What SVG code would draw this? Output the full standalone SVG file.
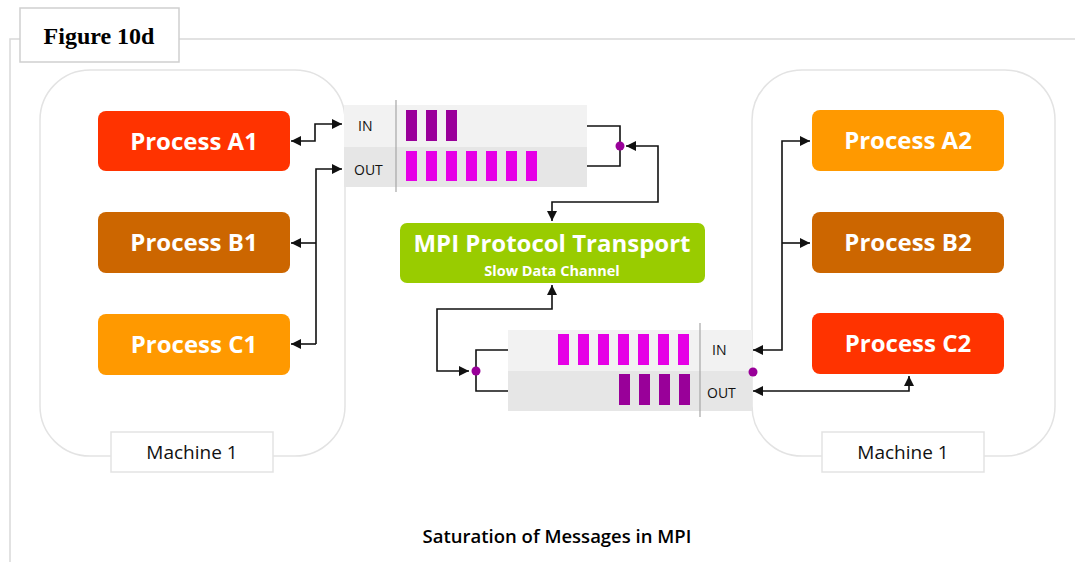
<svg xmlns="http://www.w3.org/2000/svg" width="1075" height="562" viewBox="0 0 1075 562">
  <style>
    .frame { fill: none; stroke: #d9d9d9; stroke-width: 1.5; }
    .machine { fill: #ffffff; stroke: #e3e3e3; stroke-width: 1.5; }
    .tag { fill: #ffffff; stroke: #e3e3e3; stroke-width: 1.5; }
    .tagtxt { font-family: "Open Sans", "Noto Sans", sans-serif; font-size: 19px; fill: #111; text-anchor: middle; }
    .proc { font-family: "Open Sans", "Noto Sans", sans-serif; font-size: 24px; font-weight: 700; fill: #ffffff; text-anchor: middle; }
    .qlbl { font-family: "Open Sans", "Noto Sans", sans-serif; font-size: 14px; fill: #111; }
    .wire { fill: none; stroke: #111; stroke-width: 1.6; }
    .dot { fill: #990099; }
    .dark { fill: #990099; }
    .bright { fill: #e600e6; }
  </style>
  <defs>
    <marker id="arrow" viewBox="0 0 10 10" refX="10" refY="5" markerWidth="10" markerHeight="10" markerUnits="userSpaceOnUse" orient="auto-start-reverse">
      <path d="M0,0 L10,5 L0,10 z" fill="#111"/>
    </marker>
  </defs>

  <!-- outer frame and figure title -->
  <path class="frame" d="M10,562 L10,39 L1075,39"/>
  <rect x="20" y="8" width="159" height="54" fill="#ffffff" stroke="#cfcfcf" stroke-width="1.5"/>
  <text x="99" y="44" font-family="'Liberation Serif', serif" font-size="24" font-weight="700" text-anchor="middle" fill="#000">Figure 10d</text>

  <!-- machine containers -->
  <g id="machine-left">
    <rect class="machine" x="40" y="70" width="305" height="386" rx="50"/>
    <rect class="tag" x="111" y="432" width="162" height="40"/>
    <text class="tagtxt" x="192" y="459">Machine 1</text>
  </g>
  <g id="machine-right">
    <rect class="machine" x="752" y="70" width="303" height="386" rx="50"/>
    <rect class="tag" x="822" y="432" width="162" height="40"/>
    <text class="tagtxt" x="903" y="459">Machine 1</text>
  </g>

  <!-- processes -->
  <g id="process-a1">
    <rect x="98" y="111" width="192" height="60" rx="8" fill="#ff3300"/>
    <text class="proc" x="194" y="150">Process A1</text>
  </g>
  <g id="process-b1">
    <rect x="98" y="212" width="192" height="61" rx="8" fill="#cc6600"/>
    <text class="proc" x="194" y="251">Process B1</text>
  </g>
  <g id="process-c1">
    <rect x="98" y="314" width="192" height="61" rx="8" fill="#ff9900"/>
    <text class="proc" x="194" y="353">Process C1</text>
  </g>
  <g id="process-a2">
    <rect x="812" y="110" width="192" height="61" rx="8" fill="#ff9900"/>
    <text class="proc" x="908" y="149">Process A2</text>
  </g>
  <g id="process-b2">
    <rect x="812" y="212" width="192" height="61" rx="8" fill="#cc6600"/>
    <text class="proc" x="908" y="251">Process B2</text>
  </g>
  <g id="process-c2">
    <rect x="812" y="313" width="192" height="61" rx="8" fill="#ff3300"/>
    <text class="proc" x="908" y="352">Process C2</text>
  </g>

  <!-- message queue, machine 1 side -->
  <g id="queue-1">
    <rect x="344" y="105" width="243" height="42" fill="#f2f2f2"/>
    <rect x="344" y="147" width="243" height="40" fill="#e6e6e6"/>
    <line x1="396" y1="100" x2="396" y2="192" stroke="#a6a6a6" stroke-width="1.2"/>
    <text class="qlbl" x="358" y="131">IN</text>
    <text class="qlbl" x="354" y="175">OUT</text>
    <rect class="dark" x="406" y="110" width="11" height="31"/>
    <rect class="dark" x="426" y="110" width="11" height="31"/>
    <rect class="dark" x="446" y="110" width="11" height="31"/>
    <rect class="bright" x="406" y="151" width="11" height="30"/>
    <rect class="bright" x="426" y="151" width="11" height="30"/>
    <rect class="bright" x="446" y="151" width="11" height="30"/>
    <rect class="bright" x="466" y="151" width="11" height="30"/>
    <rect class="bright" x="486" y="151" width="11" height="30"/>
    <rect class="bright" x="506" y="151" width="11" height="30"/>
    <rect class="bright" x="526" y="151" width="11" height="30"/>
  </g>

  <!-- transport channel -->
  <g id="transport">
    <rect x="400" y="223" width="305" height="60" rx="7" fill="#99cc00"/>
    <text x="552" y="252" font-family="'Open Sans', 'Noto Sans', sans-serif" font-size="24" font-weight="700" fill="#fff" text-anchor="middle">MPI Protocol Transport</text>
    <text x="552" y="276" font-family="'Open Sans', 'Noto Sans', sans-serif" font-size="14.5" font-weight="700" fill="#fff" text-anchor="middle">Slow Data Channel</text>
  </g>

  <!-- message queue, machine 2 side -->
  <g id="queue-2">
    <rect x="508" y="330" width="244" height="41" fill="#f2f2f2"/>
    <rect x="508" y="371" width="244" height="40" fill="#e6e6e6"/>
    <line x1="700" y1="323" x2="700" y2="417" stroke="#a6a6a6" stroke-width="1.2"/>
    <text class="qlbl" x="712" y="355">IN</text>
    <text class="qlbl" x="707" y="398">OUT</text>
    <rect class="bright" x="558" y="334" width="11" height="31"/>
    <rect class="bright" x="578" y="334" width="11" height="31"/>
    <rect class="bright" x="598" y="334" width="11" height="31"/>
    <rect class="bright" x="618" y="334" width="11" height="31"/>
    <rect class="bright" x="638" y="334" width="11" height="31"/>
    <rect class="bright" x="658" y="334" width="11" height="31"/>
    <rect class="bright" x="678" y="334" width="11" height="31"/>
    <rect class="dark" x="619" y="374" width="11" height="31"/>
    <rect class="dark" x="639" y="374" width="11" height="31"/>
    <rect class="dark" x="659" y="374" width="11" height="31"/>
    <rect class="dark" x="679" y="374" width="11" height="31"/>
  </g>

  <!-- connectors -->
  <g id="connectors">
    <!-- machine 1 processes to queue 1 -->
    <path class="wire" d="M291,141 H315 V124 H342" marker-start="url(#arrow)" marker-end="url(#arrow)"/>
    <path class="wire" d="M316,344 V169 H342" marker-end="url(#arrow)"/>
    <path class="wire" d="M316,243 H291" marker-end="url(#arrow)"/>
    <path class="wire" d="M316,344 H291" marker-end="url(#arrow)"/>
    <!-- queue 1 to transport -->
    <path class="wire" d="M587,126 H620 V166 H587"/>
    <path class="wire" d="M552,221 V202 H658 V146 H626" marker-start="url(#arrow)" marker-end="url(#arrow)"/>
    <circle class="dot" cx="620" cy="146" r="4.5"/>
    <!-- transport to queue 2 -->
    <path class="wire" d="M552,285 V309 H437 V371 H469" marker-start="url(#arrow)" marker-end="url(#arrow)"/>
    <path class="wire" d="M508,350 H476 V391 H508"/>
    <circle class="dot" cx="476" cy="371" r="4.5"/>
    <!-- queue 2 to machine 2 processes -->
    <path class="wire" d="M810,141 H782 V350 H753" marker-start="url(#arrow)" marker-end="url(#arrow)"/>
    <path class="wire" d="M782,243 H810" marker-end="url(#arrow)"/>
    <path class="wire" d="M753,391 H909 V376" marker-start="url(#arrow)" marker-end="url(#arrow)"/>
    <circle class="dot" cx="753" cy="372" r="4.5"/>
  </g>

  <!-- caption -->
  <text x="557" y="543" font-family="'Open Sans', 'Noto Sans', sans-serif" font-size="18.5" font-weight="600" fill="#000" text-anchor="middle">Saturation of Messages in MPI</text>
</svg>
